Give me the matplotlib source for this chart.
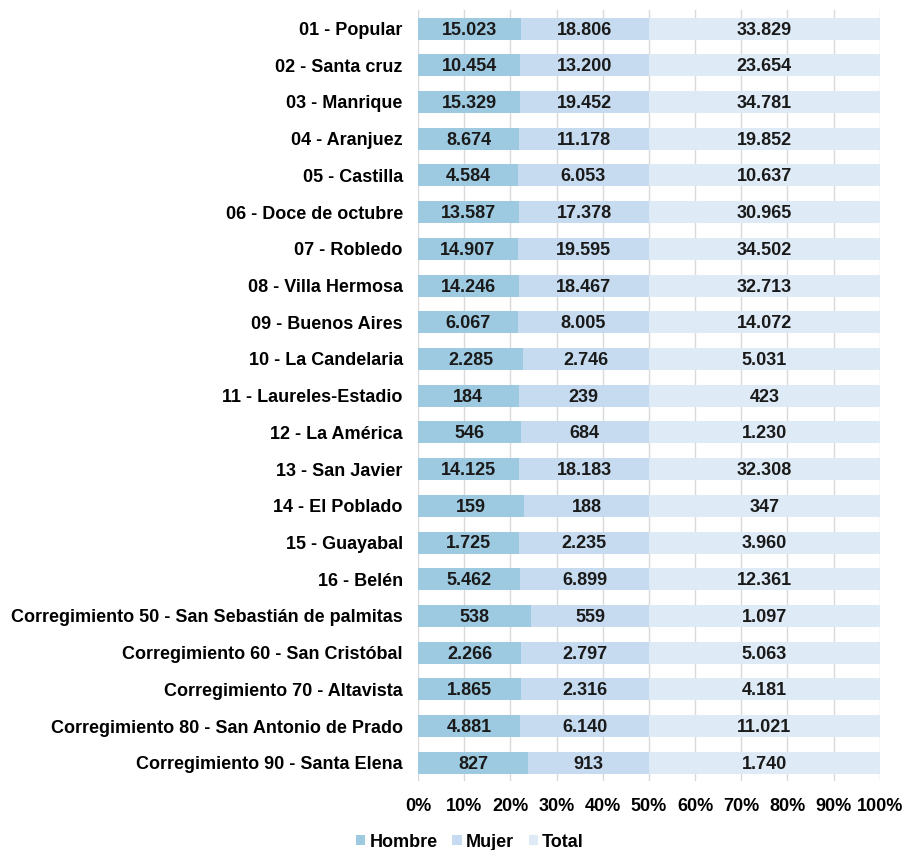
import matplotlib
matplotlib.use("Agg")
import matplotlib.pyplot as plt
import numpy as np

plt.rcParams['font.family'] = ['Liberation Sans', 'DejaVu Sans']

categories = [
    "01 - Popular", "02 - Santa cruz", "03 - Manrique", "04 - Aranjuez", "05 - Castilla",
    "06 - Doce de octubre", "07 - Robledo", "08 - Villa Hermosa", "09 - Buenos Aires",
    "10 - La Candelaria", "11 - Laureles-Estadio", "12 - La América", "13 - San Javier",
    "14 - El Poblado", "15 - Guayabal", "16 - Belén",
    "Corregimiento 50 - San Sebastián de palmitas", "Corregimiento 60 - San Cristóbal",
    "Corregimiento 70 - Altavista", "Corregimiento 80 - San Antonio de Prado",
    "Corregimiento 90 - Santa Elena",
]
hombre = [15023, 10454, 15329, 8674, 4584, 13587, 14907, 14246, 6067, 2285, 184, 546,
          14125, 159, 1725, 5462, 538, 2266, 1865, 4881, 827]
mujer = [18806, 13200, 19452, 11178, 6053, 17378, 19595, 18467, 8005, 2746, 239, 684,
         18183, 188, 2235, 6899, 559, 2797, 2316, 6140, 913]
total = [33829, 23654, 34781, 19852, 10637, 30965, 34502, 32713, 14072, 5031, 423, 1230,
         32308, 347, 3960, 12361, 1097, 5063, 4181, 11021, 1740]

series = [("Hombre", hombre, "#9ecae1"), ("Mujer", mujer, "#c6dbef"), ("Total", total, "#deebf7")]

H = np.array(hombre, float); M = np.array(mujer, float); T = np.array(total, float)
s = H + M + T

FS = 13
fig = plt.figure(figsize=(9.07, 8.5), dpi=100)
ax = fig.add_axes([0.461, 0.081, 0.509, 0.907])
y = np.arange(len(categories))
left = np.zeros(len(categories))
for name, vals, col in series:
    v = np.array(vals, float)
    frac = v / s
    ax.barh(y, frac, left=left, height=0.6, color=col, label=name, zorder=2)
    for yi, l, f, val in zip(y, left, frac, vals):
        ax.text(l + f / 2, yi + 0.04, f"{val:,}".replace(",", "."), ha="center", va="center",
                fontsize=FS, fontweight="bold", color="#1a1a1a", zorder=3)
    left = left + frac

ax.set_ylim(len(categories) - 0.5, -0.5)
ax.set_xlim(0, 1)
ax.set_yticks(y)
ax.set_yticklabels(categories, fontsize=FS, fontweight="bold")
ax.set_xticks(np.linspace(0, 1, 11))
ax.set_xticklabels([f"{int(p)}%" for p in np.linspace(0, 100, 11)], fontsize=FS, fontweight="bold")
ax.tick_params(axis="y", length=0, pad=11)
ax.tick_params(axis="x", length=0, pad=12)
ax.grid(axis="x", color="#d9d9d9", linewidth=1, zorder=0)
for sp in ax.spines.values():
    sp.set_visible(False)

fig.legend(loc="lower left", bbox_to_anchor=(0.375, -0.02), ncol=3, frameon=False,
           prop={"size": FS, "weight": "bold"}, handlelength=0.5, handleheight=0.5,
           handletextpad=0.25, columnspacing=0.8)
fig.savefig("out.png", dpi=100)
